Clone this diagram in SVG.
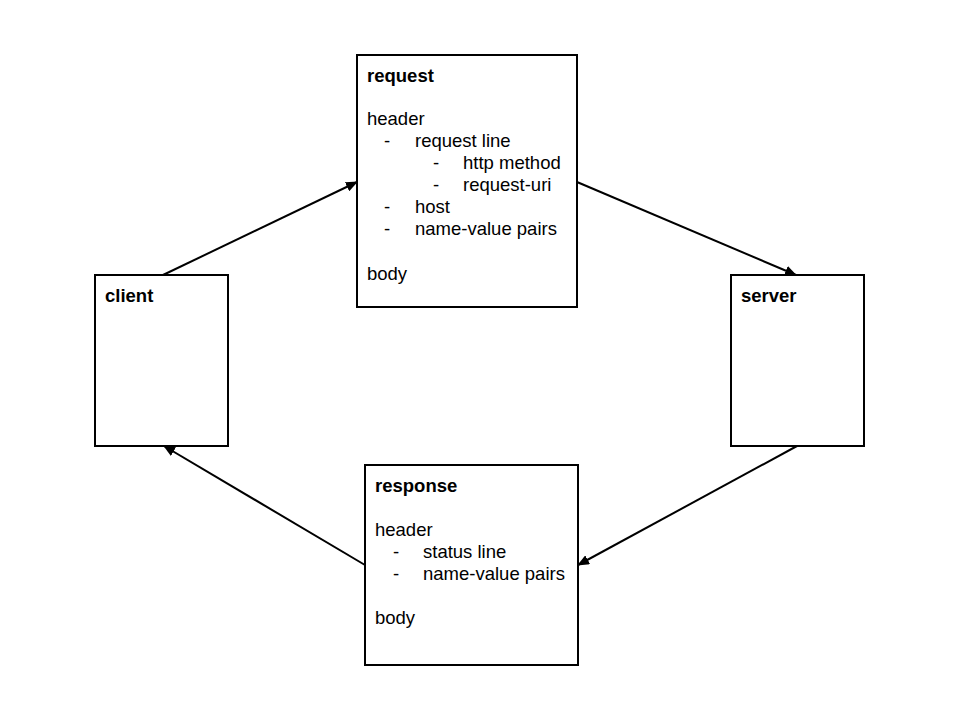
<svg xmlns="http://www.w3.org/2000/svg" width="960" height="720" viewBox="0 0 960 720">
<style>
.box{fill:#fff;stroke:#000;stroke-width:2}
text{font-family:"Liberation Sans",Arial,sans-serif;font-size:18.5px;fill:#000}
.t{font-weight:bold}
.c{stroke:#000;stroke-width:2;fill:none}
</style>
<defs>
<marker id="ah" viewBox="0 0 12 10" refX="11" refY="5" markerWidth="12" markerHeight="10" markerUnits="userSpaceOnUse" orient="auto">
<path d="M0,0 L12,5 L0,10 z" fill="#000"/>
</marker>
</defs>
<rect width="960" height="720" fill="#fff"/>
<g id="connectors">
<line class="c" x1="163" y1="275" x2="357" y2="182" marker-end="url(#ah)"/>
<line class="c" x1="577" y1="182" x2="796" y2="275" marker-end="url(#ah)"/>
<line class="c" x1="797" y1="446" x2="578" y2="565" marker-end="url(#ah)"/>
<line class="c" x1="365" y1="565" x2="164" y2="446" marker-end="url(#ah)"/>
</g>
<g id="request">
<rect class="box" x="357" y="55" width="220" height="252"/>
<text class="t" x="367" y="82">request</text>
<text x="367" y="125">header</text>
<text x="384" y="147">-</text><text x="415" y="147">request line</text>
<text x="433" y="169">-</text><text x="463" y="169">http method</text>
<text x="433" y="191">-</text><text x="463" y="191">request-uri</text>
<text x="384" y="213">-</text><text x="415" y="213">host</text>
<text x="384" y="235">-</text><text x="415" y="235">name-value pairs</text>
<text x="367" y="280">body</text>
</g>
<g id="client">
<rect class="box" x="95" y="275" width="133" height="171"/>
<text class="t" x="105" y="302">client</text>
</g>
<g id="server">
<rect class="box" x="731" y="275" width="133" height="171"/>
<text class="t" x="741" y="302">server</text>
</g>
<g id="response">
<rect class="box" x="365" y="465" width="213" height="200"/>
<text class="t" x="375" y="492">response</text>
<text x="375" y="536">header</text>
<text x="393" y="558">-</text><text x="423" y="558">status line</text>
<text x="393" y="580">-</text><text x="423" y="580">name-value pairs</text>
<text x="375" y="624">body</text>
</g>
</svg>
